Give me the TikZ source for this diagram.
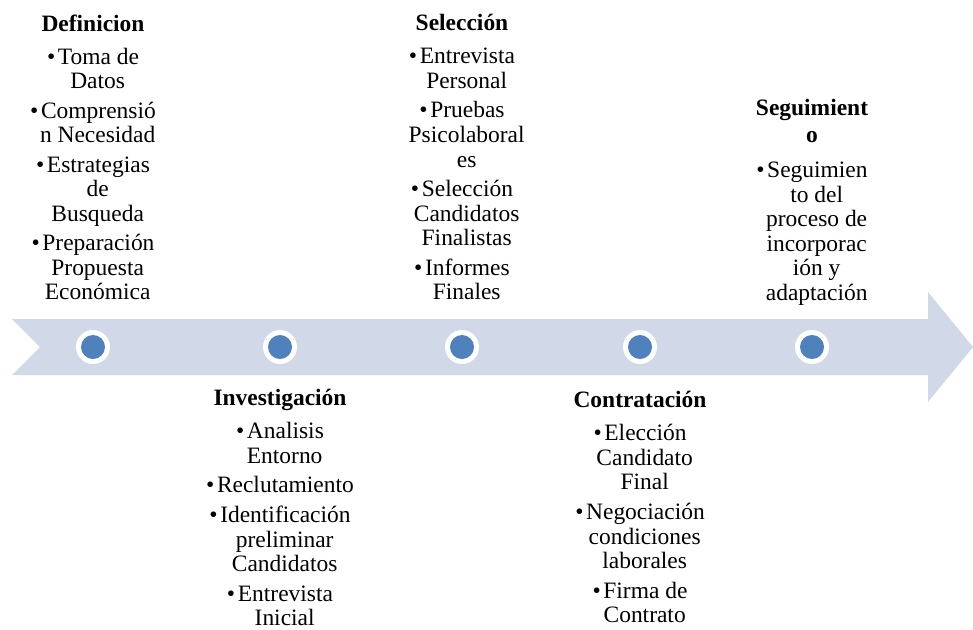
\documentclass[tikz,border=0pt]{standalone}
\usepackage{fontspec}
\setmainfont{Liberation Serif}

\definecolor{bandfill}{HTML}{D1D9E8}
\definecolor{dotblue}{HTML}{4F81BD}

\newcommand{\stitem}{\textbullet\hspace{2pt}}
\newcommand{\stcont}{\hspace*{7pt}}

\tikzset{every picture/.style={line width=0.75pt}}
\tikzset{
  stagetext/.style={anchor=north, inner sep=0pt, align=center, font=\fontsize{17.6}{18.4}\selectfont},
  dotring/.style={circle, fill=white, minimum size=25.5pt, inner sep=0pt},
  dotcore/.style={circle, fill=dotblue, minimum size=18pt, inner sep=0pt}
}

\begin{document}
\begin{tikzpicture}[x=0.75pt,y=0.75pt,yscale=-1,xscale=1]
\useasboundingbox (0,0) rectangle (973,629);

%Shape: Notched Arrow [id:band]
\fill[bandfill] (12,319) -- (928,319) -- (928,292) -- (973,347) -- (928,402) -- (928,375) -- (12,375) -- (40,347) -- cycle ;

%Shape: Circle [id:ring1]
\node[dotring] (ring1) at (93,347) {};
\node[dotcore] (dot1) at (ring1) {};
%Shape: Circle [id:ring2]
\node[dotring] (ring2) at (280,347) {};
\node[dotcore] (dot2) at (ring2) {};
%Shape: Circle [id:ring3]
\node[dotring] (ring3) at (462,347) {};
\node[dotcore] (dot3) at (ring3) {};
%Shape: Circle [id:ring4]
\node[dotring] (ring4) at (640,347) {};
\node[dotcore] (dot4) at (ring4) {};
%Shape: Circle [id:ring5]
\node[dotring] (ring5) at (812,347) {};
\node[dotcore] (dot5) at (ring5) {};

% Text Node
\node[stagetext] (definicion) at (93,14) {\textbf{Definicion}\\[6.4pt]
  \stitem Toma de\\ \stcont Datos\\[3.75pt]
  \stitem Comprensió\\ \stcont n Necesidad\\[3.75pt]
  \stitem Estrategias\\ \stcont de\\ \stcont Busqueda\\[3.75pt]
  \stitem Preparación\\ \stcont Propuesta\\ \stcont Económica};
% Text Node
\node[stagetext] (investigacion) at (280,389) {\textbf{Investigación}\\[6.4pt]
  \stitem Analisis\\ \stcont Entorno\\[3.75pt]
  \stitem Reclutamiento\\[3.75pt]
  \stitem Identificación\\ \stcont preliminar\\ \stcont Candidatos\\[3.75pt]
  \stitem Entrevista\\ \stcont Inicial};
% Text Node
\node[stagetext] (seleccion) at (462,14) {\textbf{Selección}\\[6.4pt]
  \stitem Entrevista\\ \stcont Personal\\[3.75pt]
  \stitem Pruebas\\ \stcont Psicolaboral\\ \stcont es\\[3.75pt]
  \stitem Selección\\ \stcont Candidatos\\ \stcont Finalistas\\[3.75pt]
  \stitem Informes\\ \stcont Finales};
% Text Node
\node[stagetext] (contratacion) at (640,391) {\textbf{Contratación}\\[6.4pt]
  \stitem Elección\\ \stcont Candidato\\ \stcont Final\\[3.75pt]
  \stitem Negociación\\ \stcont condiciones\\ \stcont laborales\\[3.75pt]
  \stitem Firma de\\ \stcont Contrato};
% Text Node
\node[stagetext] (seguimiento) at (812,99) {\textbf{Seguimient}\\[1.6pt]\textbf{o}\\[7.9pt]
  \stitem Seguimien\\ \stcont to del\\ \stcont proceso de\\ \stcont incorporac\\ \stcont ión y\\ \stcont adaptación};

\end{tikzpicture}
\end{document}
